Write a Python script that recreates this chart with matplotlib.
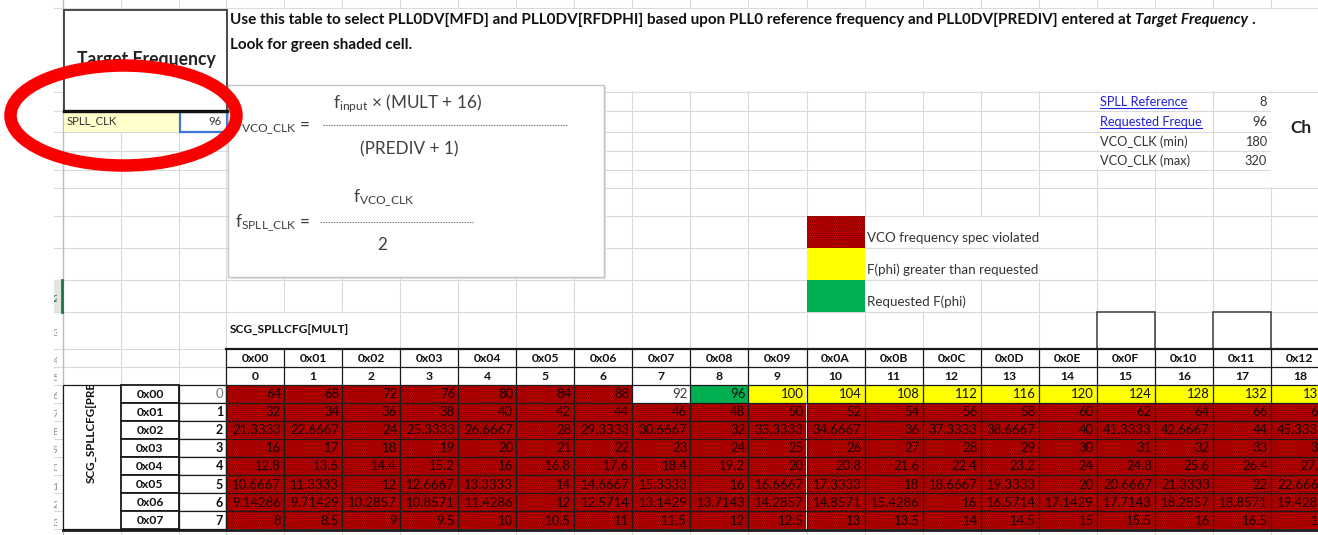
import matplotlib
matplotlib.use('Agg')
import matplotlib.pyplot as plt
from matplotlib.patches import Rectangle, Ellipse
from matplotlib.transforms import Bbox, TransformedBbox

plt.rcParams['font.family'] = ['Lato', 'DejaVu Sans']
plt.rcParams['mathtext.fontset'] = 'custom'
plt.rcParams['mathtext.rm'] = 'Lato'
plt.rcParams['mathtext.it'] = 'Lato:italic'
plt.rcParams['mathtext.bf'] = 'Lato:bold'
plt.rcParams['hatch.linewidth'] = 0.6

# ---------------- data ----------------
mult_hex = ['0x00', '0x01', '0x02', '0x03', '0x04', '0x05', '0x06', '0x07', '0x08', '0x09',
            '0x0A', '0x0B', '0x0C', '0x0D', '0x0E', '0x0F', '0x10', '0x11', '0x12']
mult_dec = [0, 1, 2, 3, 4, 5, 6, 7, 8, 9, 10, 11, 12, 13, 14, 15, 16, 17, 18]
prediv_hex = ['0x00', '0x01', '0x02', '0x03', '0x04', '0x05', '0x06', '0x07']
prediv_dec = [0, 1, 2, 3, 4, 5, 6, 7]

spll_row0 = [64, 68, 72, 76, 80, 84, 88, 92, 96, 100, 104, 108, 112, 116, 120, 124, 128, 132, 136]
spll_row1 = [32, 34, 36, 38, 40, 42, 44, 46, 48, 50, 52, 54, 56, 58, 60, 62, 64, 66, 68]
spll_row2 = [21.3333, 22.6667, 24, 25.3333, 26.6667, 28, 29.3333, 30.6667, 32, 33.3333,
             34.6667, 36, 37.3333, 38.6667, 40, 41.3333, 42.6667, 44, 45.3333]
spll_row3 = [16, 17, 18, 19, 20, 21, 22, 23, 24, 25, 26, 27, 28, 29, 30, 31, 32, 33, 34]
spll_row4 = [12.8, 13.6, 14.4, 15.2, 16, 16.8, 17.6, 18.4, 19.2, 20, 20.8, 21.6, 22.4, 23.2,
             24, 24.8, 25.6, 26.4, 27.2]
spll_row5 = [10.6667, 11.3333, 12, 12.6667, 13.3333, 14, 14.6667, 15.3333, 16, 16.6667,
             17.3333, 18, 18.6667, 19.3333, 20, 20.6667, 21.3333, 22, 22.6667]
spll_row6 = [9.14286, 9.71429, 10.2857, 10.8571, 11.4286, 12, 12.5714, 13.1429, 13.7143,
             14.2857, 14.8571, 15.4286, 16, 16.5714, 17.1429, 17.7143, 18.2857, 18.8571, 19.4286]
spll_row7 = [8, 8.5, 9, 9.5, 10, 10.5, 11, 11.5, 12, 12.5, 13, 13.5, 14, 14.5, 15, 15.5, 16, 16.5, 17]
spll_clk = [spll_row0, spll_row1, spll_row2, spll_row3, spll_row4, spll_row5, spll_row6, spll_row7]

# R = VCO spec violated, W = none, G = requested, Y = greater than requested
cell_state = ['RRRRRRRWGYYYYYYYYYY',
              'RRRRRRRRRRRRRRRRRRR',
              'RRRRRRRRRRRRRRRRRRR',
              'RRRRRRRRRRRRRRRRRRR',
              'RRRRRRRRRRRRRRRRRRR',
              'RRRRRRRRRRRRRRRRRRR',
              'RRRRRRRRRRRRRRRRRRR',
              'RRRRRRRRRRRRRRRRRRR']

info_labels = ['SPLL Reference', 'Requested Freque', 'VCO_CLK (min)', 'VCO_CLK (max)']
info_values = [8, 96, 180, 320]
legend_labels = ['VCO frequency spec violated', 'F(phi) greater than requested', 'Requested F(phi)']
target_label = 'SPLL_CLK'
target_value = 96
row_numbers = [12, 13, 14, 15, 16, 17, 18, 19, 20, 21, 22, 23, 24, 25]

# ---------------- style ----------------
RED = '#C00000'
DOT = '#6A0000'
YEL = '#FFFF00'
GRN = '#00B050'
GRID = '#DADADA'
FILL = {'W': 'white', 'G': GRN, 'Y': YEL}

W, H = 1318, 535
fig = plt.figure(figsize=(W / 100, H / 100), dpi=100)
ax = fig.add_axes([0, 0, 1, 1])
ax.set_xlim(0, W)
ax.set_ylim(H, 0)
ax.axis('off')
fig.canvas.draw()
renderer = fig.canvas.get_renderer()


def fit(t, width):
    bb = t.get_window_extent(renderer)
    t.set_fontsize(t.get_fontsize() * width / bb.width)
    return t


def twidth(t):
    return t.get_window_extent(renderer).width


def clip_text(t, x0, y0, x1, y1):
    # clip a text to a rectangle given in data coordinates
    t.set_clip_on(True)
    t.set_clip_box(TransformedBbox(Bbox([[x0, y0], [x1, y1]]), ax.transData))


col_x0 = 226.0
col_w = 58.05
ncol = len(mult_dec)
col_edges = [63, 121, 179] + [col_x0 + col_w * k for k in range(ncol + 1)]
data_top = 384.5
row_h = 18.1
nrow = len(prediv_dec)
row_edges = [8, 92, 111, 132, 151, 170, 188, 216, 248, 280, 312, 349, 367] + \
            [data_top + row_h * k for k in range(nrow + 1)]

# ---------------- sheet grid ----------------
for y in row_edges:
    ax.plot([54, W], [y, y], color=GRID, lw=0.8, zorder=1)
for x in col_edges[1:]:
    ax.plot([x, x], [0, H], color=GRID, lw=0.8, zorder=1)
ax.plot([63, 63], [0, H], color='#BDBDBD', lw=1.0, zorder=1.2)


def white(x0, y0, x1, y1):
    ax.add_patch(Rectangle((x0, y0), x1 - x0, y1 - y0, facecolor='white', lw=0, zorder=1.5))


white(63.6, 8.6, W, 91.4)
for (a, b) in [(92, 111), (111, 132), (132, 151), (151, 170)]:
    white(col_edges[3 + 15] + 0.6, a + 0.6, col_edges[3 + 17] - 0.6, b - 0.6)
white(col_edges[3 + 18] + 0.6, 92.6, W, 187.4)
white(col_edges[3 + 11] + 0.6, 216.6, col_edges[3 + 15] - 0.6, 247.4)
white(col_edges[3 + 11] + 0.6, 248.6, col_edges[3 + 15] - 0.6, 279.4)
white(col_edges[3 + 11] + 0.6, 280.6, col_edges[3 + 13] - 0.6, 311.4)
white(col_x0 + 0.6, 312.6, col_edges[3 + 3] - 0.6, 348.4)

# row header stubs (cut-off Excel row numbers)
ax.add_patch(Rectangle((54, 280), 8, 32, facecolor='#E3E3E3', lw=0, zorder=1.3))
ax.plot([62.3, 62.3], [280, 312], color='#217346', lw=2.0, zorder=1.4)
stub_rows = [(row_edges[k] + row_edges[k + 1]) / 2 + 3 for k in range(9, len(row_edges) - 1)]
for k, yc in enumerate(stub_rows):
    t = ax.text(59.5, yc, str(row_numbers[k]), ha='right', va='center', fontsize=7.5,
                color='#217346' if k == 0 else '#8A8A8A', zorder=1.6)
    clip_text(t, 53.5, 0, 57.0, H)

# ---------------- top text ----------------
part1 = ax.text(230, 20, 'Use this table to select PLL0DV[MFD] and PLL0DV[RFDPHI] based upon PLL0 '
                'reference frequency and PLL0DV[PREDIV] entered at', ha='left', va='center',
                fontsize=11, fontweight='bold', color='#111111', zorder=3)
fit(part1, 901)
fs_top = part1.get_fontsize()
x2 = 230 + twidth(part1) + fs_top * 0.35
part2 = ax.text(x2, 20, 'Target Frequency', ha='left', va='center', fontsize=fs_top,
                fontweight='bold', fontstyle='italic', color='#111111', zorder=3)
x3 = x2 + twidth(part2) + fs_top * 0.3
ax.text(x3, 20, '.', ha='left', va='center', fontsize=fs_top, fontweight='bold',
        color='#111111', zorder=3)
ax.text(230, 45, 'Look for green shaded cell.', ha='left', va='center', fontsize=fs_top,
        fontweight='bold', color='#111111', zorder=3)

# ---------------- target frequency box ----------------
ax.add_patch(Rectangle((63.5, 10), 163, 101, facecolor='white', edgecolor='#3A3A3A', lw=1.3, zorder=3))
tf = ax.text(146, 60, 'Target Frequency', ha='center', va='center', fontsize=11,
             fontweight='bold', color='#222222', zorder=4)
fit(tf, 138)
ax.plot([63.5, 227], [111, 111], color='#111111', lw=2.4, zorder=4)
ax.add_patch(Rectangle((64, 111.8), 115, 20, facecolor='#FFFFCC', lw=0, zorder=3))
sl = ax.text(67, 121, target_label, ha='left', va='center', fontsize=7, color='#333333', zorder=4)
fit(sl, 51)
ax.add_patch(Rectangle((179.5, 112), 47, 20, facecolor='white', edgecolor='#3C78D8', lw=1.6, zorder=3))
ax.text(222, 121.5, str(target_value), ha='right', va='center', fontsize=sl.get_fontsize(),
        color='#333333', zorder=4)

# ---------------- formula box ----------------
ax.add_patch(Rectangle((230, 87), 376, 192, facecolor='#E4E4E4', lw=0, zorder=2.9))
ax.add_patch(Rectangle((228, 85), 376, 192, facecolor='white', edgecolor='#C4C4C4', lw=1.0, zorder=3))
FC = '#3F3F3F'
pv = ax.text(360, 154, '(PREDIV + 1)', ha='left', va='baseline', fontsize=11, color=FC, zorder=4)
fit(pv, 98)
fs_f = pv.get_fontsize()
ax.text(333, 108, r'$\mathregular{f_{input}}$ × (MULT + 16)', ha='left', va='baseline',
        fontsize=fs_f, color=FC, zorder=4)
ax.text(235, 130, r'$\mathregular{f_{VCO\_CLK}}$ =', ha='left', va='baseline',
        fontsize=fs_f, color=FC, zorder=4)
ax.plot([323, 567], [125, 125], color='#666666', lw=0.8, ls=(0, (1.2, 1.2)), zorder=4)
ax.text(353, 202, r'$\mathregular{f_{VCO\_CLK}}$', ha='left', va='baseline',
        fontsize=fs_f, color=FC, zorder=4)
ax.text(235, 227, r'$\mathregular{f_{SPLL\_CLK}}$ =', ha='left', va='baseline',
        fontsize=fs_f, color=FC, zorder=4)
ax.plot([320, 473], [222, 222], color='#666666', lw=0.8, ls=(0, (1.2, 1.2)), zorder=4)
ax.text(382, 250, '2', ha='center', va='baseline', fontsize=fs_f, color=FC, zorder=4)

# ---------------- info block ----------------
info_rows = [(92, 111), (111, 132), (132, 151), (151, 170)]
probe = ax.text(1100, -50, info_labels[2], fontsize=8)
fit(probe, 87)
fs_info = probe.get_fontsize()
probe.remove()
LINK = '#2020DD'
for k, (a, b) in enumerate(info_rows):
    link = k < 2
    t = ax.text(1100, (a + b) / 2 + 0.5, info_labels[k], ha='left', va='center', fontsize=fs_info,
                color=LINK if link else '#333333', zorder=4)
    if link:
        clip_text(t, 1096, 0, col_edges[3 + 17] - 0.5, H)
        bb = t.get_window_extent(renderer)
        yb = H - bb.y0 + 0.3
        x1 = min(1100 + bb.width, col_edges[3 + 17] - 1)
        ax.plot([1100, x1], [yb, yb], color=LINK, lw=0.8, zorder=4)
    ax.text(1267, (a + b) / 2 + 0.5, str(info_values[k]), ha='right', va='center',
            fontsize=fs_info, color='#333333', zorder=4)
ax.text(1290, 128, 'Ch', ha='left', va='center', fontsize=12.5, fontweight='bold',
        color='#222222', zorder=4)

# ---------------- legend ----------------
leg_rows = [(216, 248), (248, 280), (280, 312)]
leg_cols = [RED, YEL, GRN]
lx0 = col_edges[3 + 10]
fs_leg = None
for k, (a, b) in enumerate(leg_rows):
    if k == 0:
        ax.add_patch(Rectangle((lx0, a), col_w, b - a, facecolor=RED, edgecolor=DOT,
                               hatch='........', lw=0, zorder=3))
    else:
        ax.add_patch(Rectangle((lx0, a), col_w, b - a, facecolor=leg_cols[k], lw=0, zorder=3))
    t = ax.text(lx0 + col_w + 2, b - 10, legend_labels[k], ha='left', va='center',
                fontsize=8, color='#333333', zorder=4)
    if k == 0:
        fit(t, 173)
        fs_leg = t.get_fontsize()
    else:
        t.set_fontsize(fs_leg)

# ---------------- table ----------------
mt = ax.text(230, 330.5, 'SCG_SPLLCFG[MULT]', ha='left', va='center', fontsize=8,
             fontweight='bold', color='#111111', zorder=4)
fit(mt, 118)

sample = ax.text(0, -50, '21.3333', fontsize=9)
fit(sample, 49)
fs_cell = sample.get_fontsize()
sample.remove()

for j in [15, 17]:
    x0 = col_x0 + j * col_w
    ax.add_patch(Rectangle((x0, 312), col_w, 37, facecolor='white', edgecolor='#3A3A3A',
                           lw=1.1, zorder=3))

for j in range(ncol):
    x0 = col_x0 + j * col_w
    ax.add_patch(Rectangle((x0, 349), col_w, 35.5, facecolor='white', lw=0, zorder=3))
    ax.text(x0 + col_w / 2, 358.5, mult_hex[j], ha='center', va='center', fontsize=fs_cell * 0.92,
            fontweight='bold', color='#111111', zorder=6)
    ax.text(x0 + col_w / 2, 376.5, str(mult_dec[j]), ha='center', va='center',
            fontsize=fs_cell * 0.92, fontweight='bold', color='#111111', zorder=6)

for i in range(nrow):
    y0 = data_top + i * row_h
    for j in range(ncol):
        x0 = col_x0 + j * col_w
        st = cell_state[i][j]
        if st == 'R':
            ax.add_patch(Rectangle((x0, y0), col_w, row_h, facecolor=RED, edgecolor=DOT,
                                   hatch='........', lw=0, zorder=3))
            tc = '#1A0000'
        else:
            ax.add_patch(Rectangle((x0, y0), col_w, row_h, facecolor=FILL[st], lw=0, zorder=3))
            tc = '#3A3A3A' if st == 'W' else '#111111'
        ax.text(x0 + col_w - 3, y0 + row_h / 2 + 0.5, f'{spll_clk[i][j]:g}', ha='right',
                va='center', fontsize=fs_cell, color=tc, zorder=6)

# table borders
BLK = '#1A1A1A'
for y in [367, data_top] + [data_top + row_h * k for k in range(1, nrow)]:
    ax.plot([col_x0, W], [y, y], color=BLK, lw=0.9, zorder=5)
ax.plot([col_x0, W], [349, 349], color=BLK, lw=1.6, zorder=5)
for j in range(ncol + 1):
    x = col_x0 + j * col_w
    ax.plot([x, x], [349, data_top + row_h * nrow], color=BLK, lw=0.9, zorder=5)

# row labels
data_bot = data_top + row_h * nrow
ax.add_patch(Rectangle((63, data_top), 58, row_h * nrow, facecolor='white', edgecolor=BLK,
                       lw=0.9, zorder=3))
pre = ax.text(92, 483, 'SCG_SPLLCFG[PREDIV]', rotation=90, ha='center', va='bottom',
              fontsize=8, fontweight='bold', color='#111111', zorder=6)
pb = pre.get_window_extent(renderer)
pre.set_fontsize(pre.get_fontsize() * 98 / (pb.height * 15 / 19))
clip_text(pre, 63, data_top + 1, 121, data_bot)
for i in range(nrow):
    y0 = data_top + i * row_h
    ax.add_patch(Rectangle((121, y0), 58, row_h, facecolor='white', edgecolor=BLK, lw=1.3, zorder=4))
    ax.add_patch(Rectangle((179, y0), 47, row_h, facecolor='white', edgecolor=BLK, lw=0.9, zorder=4))
    ax.text(150, y0 + row_h / 2 + 0.5, prediv_hex[i], ha='center', va='center',
            fontsize=fs_cell * 0.92, fontweight='bold', color='#111111', zorder=6)
    ax.text(223, y0 + row_h / 2 + 0.5, str(prediv_dec[i]), ha='right', va='center',
            fontsize=fs_cell * (0.95 if i else 1.0), fontweight='bold' if i else 'normal',
            color='#111111' if i else '#777777', zorder=6)

ax.plot([63, W], [data_bot + 0.8, data_bot + 0.8], color=BLK, lw=2.0, zorder=6)

# ---------------- red ellipse ----------------
ax.add_patch(Ellipse((123.5, 115.5), 226, 100, fill=False, edgecolor='#FA0000', lw=9, zorder=30))

fig.savefig('out.png', dpi=100)
